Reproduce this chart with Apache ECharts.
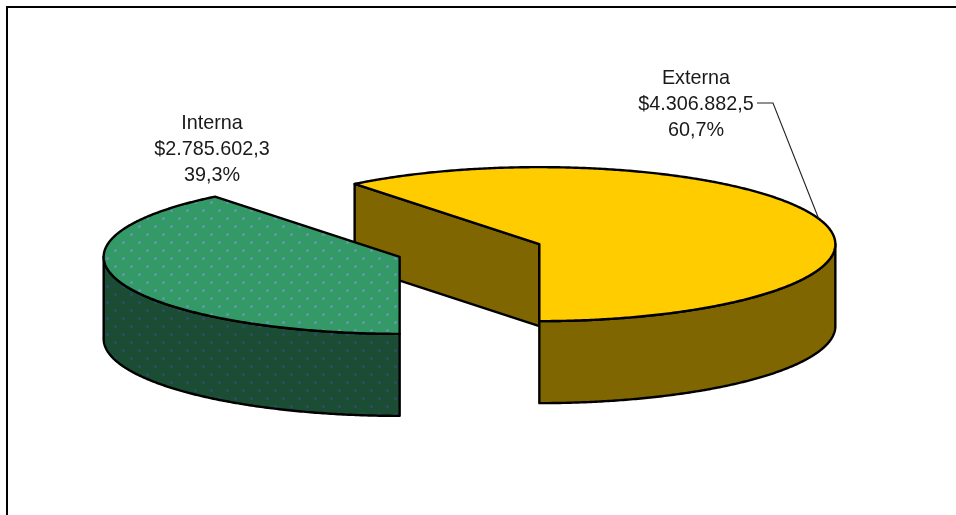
<!DOCTYPE html>
<html>
<head>
<meta charset="utf-8">
<title>Distribución Interna / Externa</title>
<style>
  html, body { margin: 0; padding: 0; background: #fff; }
  #chart { width: 956px; height: 515px; }
</style>
<script src="https://cdn.jsdelivr.net/npm/echarts@6/dist/echarts.min.js"></script>
</head>
<body>
<div id="chart"></div>
<script>
// Chart data
const categories = ['Externa', 'Interna'];
const amounts = [4306882.5, 2785602.3];

// Look of each slice
const topFills = ['#FFCC00', '#339966'];
const sideFills = ['#806600', '#1A4D33'];
const dotted = [false, true];

// Projection of the tilted pie
const pie = { cx: 469.5, cy: 250.5, rx: 296, ry: 77, depth: 82, explode: 0.25 };
const labelCentres = [696, 212];
const labelTops = [66, 111];
const leaderElbow = [[757, 103], [773, 103]];

const RAD = Math.PI / 180;
const total = amounts.reduce((a, b) => a + b, 0);

// Small tile of soft dots used as the fill texture
function dotTile(background, dot, offset) {
  const tile = document.createElement('canvas');
  tile.width = tile.height = 16;
  const g = tile.getContext('2d');
  g.fillStyle = background;
  g.fillRect(0, 0, 16, 16);
  offset.forEach(([x, y]) => {
    const r = g.createRadialGradient(x, y, 0, x, y, 1.9);
    r.addColorStop(0, dot);
    r.addColorStop(0.35, dot);
    r.addColorStop(1, background);
    g.fillStyle = r;
    g.fillRect(x - 3, y - 3, 6, 6);
  });
  return { image: tile, repeat: 'repeat' };
}

const topPattern = dotTile('#339966', '#6F95C4', [[3.5, 10.5], [11.5, 2.5]]);
const sidePattern = dotTile('#1A4D33', '#344A78', [[3.5, 6.5], [11.5, 14.5]]);

// Angles run counter-clockwise from the front of the pie
function rimPoint(c, deg, drop) {
  return [c[0] + Math.sin(deg * RAD) * pie.rx, c[1] + Math.cos(deg * RAD) * pie.ry + (drop || 0)];
}

function arcPoints(c, from, to, drop) {
  const pts = [];
  const steps = Math.max(2, Math.ceil(Math.abs(to - from) * 2));
  for (let i = 0; i <= steps; i++) pts.push(rimPoint(c, from + (to - from) * i / steps, drop));
  return pts;
}

function moneyText(v) {
  const [whole, dec] = v.toFixed(1).split('.');
  return '$' + whole.replace(/\B(?=(\d{3})+$)/g, '.') + ',' + dec;
}

function percentText(v) {
  return (v / total * 100).toFixed(1).replace('.', ',') + '%';
}

function renderSlice(params, api) {
  const i = params.dataIndex;
  const value = api.value(0);
  let start = 0;
  for (let k = 0; k < i; k++) start += amounts[k] / total * 360;
  const end = start + value / total * 360;
  const mid = (start + end) / 2;
  const centre = [
    pie.cx + Math.sin(mid * RAD) * pie.rx * pie.explode,
    pie.cy + Math.cos(mid * RAD) * pie.ry * pie.explode
  ];
  const edge = { stroke: '#000', lineWidth: 2.4, lineJoin: 'round' };
  const sideFill = dotted[i] ? sidePattern : sideFills[i];
  const topFill = dotted[i] ? topPattern : topFills[i];
  const children = [];

  const polygon = (points, fill) => ({
    type: 'polygon',
    shape: { points },
    style: Object.assign({ fill }, edge)
  });

  // Cut faces that turn towards the viewer
  [[start, Math.sin(start * RAD) > 1e-6], [end, Math.sin(end * RAD) < -1e-6]].forEach(([deg, visible]) => {
    if (!visible) return;
    const p = rimPoint(centre, deg);
    children.push(polygon([
      centre, p, [p[0], p[1] + pie.depth], [centre[0], centre[1] + pie.depth]
    ], sideFill));
  });

  // Outer wall, front half only
  [[0, 90], [270, 360]].forEach(([a, b]) => {
    const from = Math.max(a, start);
    const to = Math.min(b, end);
    if (to <= from) return;
    const upper = arcPoints(centre, from, to, 0);
    const lower = arcPoints(centre, to, from, pie.depth);
    children.push(polygon(upper.concat(lower), sideFill));
  });

  // Top surface
  children.push(polygon([centre].concat(arcPoints(centre, start, end, 0)), topFill));

  // Three-line label
  children.push({
    type: 'text',
    z2: 10,
    style: {
      text: categories[i] + '\n' + moneyText(value) + '\n' + percentText(value),
      x: labelCentres[i],
      y: labelTops[i],
      fill: '#1a1a1a',
      font: '19.8px "Liberation Sans", Arial, sans-serif',
      lineHeight: 26,
      align: 'center',
      verticalAlign: 'top'
    }
  });

  // Leader line for the larger slice, ending on the rim at the slice's middle angle
  if (i === 0) {
    children.push({
      type: 'polyline',
      z2: 5,
      shape: { points: leaderElbow.concat([rimPoint(centre, mid)]) },
      style: { stroke: '#222', lineWidth: 1.1, fill: 'none' }
    });
  }
  return { type: 'group', children };
}

const chart = echarts.init(document.getElementById('chart'), null, { renderer: 'canvas' });
chart.setOption({
  backgroundColor: '#fff',
  animation: false,
  graphic: [{
    type: 'polyline',
    silent: true,
    shape: { points: [[7, 520], [7, 7], [960, 7]] },
    style: { stroke: '#000', lineWidth: 2, fill: 'none' }
  }],
  series: [{
    type: 'custom',
    coordinateSystem: 'none',
    silent: true,
    renderItem: renderSlice,
    data: amounts.map((v, i) => ({ name: categories[i], value: [v] }))
  }]
});
</script>
</body>
</html>
